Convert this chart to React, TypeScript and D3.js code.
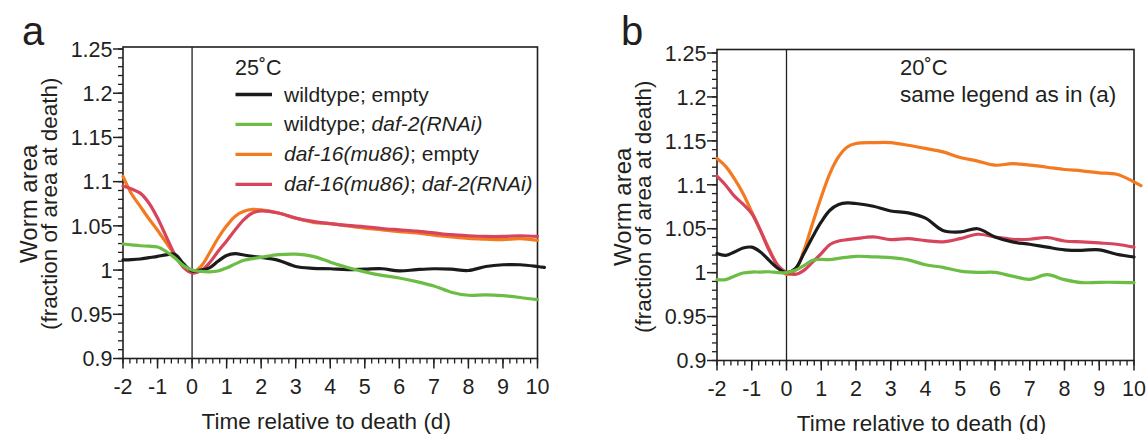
import React from "react";
import * as d3 from "d3";

// time (days relative to death)
const T = [-2, -1.75, -1.5, -1.25, -1, -0.75, -0.5, -0.25, 0, 0.25, 0.5, 0.75, 1, 1.25, 1.5, 1.75, 2, 2.5, 3, 3.5, 4, 4.5, 5, 5.5, 6, 6.5, 7, 7.5, 8, 8.5, 9, 9.5, 10, 10.2];

// Panel a (25°C)
const A_WT_EMPTY = [1.0115, 1.0118, 1.0125, 1.014, 1.0155, 1.0172, 1.018, 1.0072, 0.999, 1.0, 1.0025, 1.01, 1.0165, 1.0185, 1.017, 1.0155, 1.0144, 1.011, 1.004, 1.002, 1.0015, 1.0005, 1.001, 1.0015, 0.999, 1.0005, 1.0015, 1.001, 0.9995, 1.004, 1.006, 1.006, 1.004, 1.003];
const A_WT_DAF2 = [1.0295, 1.0285, 1.0275, 1.027, 1.026, 1.021, 1.0137, 1.005, 1.0, 0.9985, 0.998, 0.999, 1.0024, 1.007, 1.011, 1.013, 1.0144, 1.0174, 1.018, 1.0155, 1.009, 1.003, 0.998, 0.994, 0.991, 0.987, 0.982, 0.975, 0.9715, 0.972, 0.971, 0.969, 0.9665, null];
const A_D16_EMPTY = [1.106, 1.086, 1.072, 1.058, 1.045, 1.031, 1.017, 1.005, 0.998, 1.004, 1.019, 1.036, 1.05, 1.061, 1.0665, 1.0686, 1.068, 1.0645, 1.0588, 1.054, 1.0525, 1.05, 1.0475, 1.0455, 1.0435, 1.042, 1.0395, 1.0375, 1.0358, 1.035, 1.0345, 1.0355, 1.0335, null];
const A_D16_DAF2 = [1.095, 1.0917, 1.087, 1.0758, 1.0588, 1.038, 1.0174, 1.003, 0.9967, 0.999, 1.008, 1.021, 1.033, 1.0456, 1.057, 1.0645, 1.067, 1.0645, 1.0588, 1.055, 1.0525, 1.0505, 1.049, 1.047, 1.0455, 1.044, 1.042, 1.04, 1.0388, 1.038, 1.038, 1.0388, 1.038, null];

// Panel b (20°C)
const B_WT_EMPTY = [1.0217, 1.0197, 1.0235, 1.028, 1.029, 1.0235, 1.014, 1.005, 1.0, 1.0045, 1.0217, 1.0406, 1.0577, 1.071, 1.0775, 1.0794, 1.0787, 1.0756, 1.0702, 1.068, 1.062, 1.048, 1.0463, 1.05, 1.0406, 1.035, 1.0323, 1.029, 1.026, 1.0254, 1.026, 1.021, 1.0178, null];
const B_WT_DAF2 = [0.992, 0.992, 0.996, 0.9996, 1.0007, 1.0007, 1.001, 1.0, 1.0, 1.0026, 1.008, 1.014, 1.015, 1.0148, 1.0163, 1.0175, 1.0186, 1.018, 1.017, 1.0145, 1.009, 1.006, 1.0018, 1.0003, 1.0003, 0.996, 0.9924, 0.9977, 0.992, 0.9886, 0.989, 0.989, 0.9886, null];
const B_D16_EMPTY = [1.13, 1.121, 1.107, 1.09, 1.069, 1.048, 1.027, 1.008, 0.998, 1.0026, 1.025, 1.056, 1.086, 1.113, 1.132, 1.143, 1.147, 1.148, 1.148, 1.145, 1.1414, 1.1375, 1.131, 1.127, 1.1223, 1.124, 1.1223, 1.12, 1.1174, 1.1159, 1.1136, 1.112, 1.1033, 1.099];
const B_D16_DAF2 = [1.1098, 1.0995, 1.087, 1.078, 1.0673, 1.048, 1.0254, 1.0083, 1.0, 0.998, 1.0026, 1.012, 1.0217, 1.032, 1.036, 1.0375, 1.0387, 1.0406, 1.0376, 1.0387, 1.0365, 1.035, 1.0387, 1.0437, 1.0406, 1.038, 1.038, 1.04, 1.036, 1.035, 1.0338, 1.0323, 1.029, null];

const SERIES_NAMES = ["wildtype; empty", "wildtype; daf-2(RNAi)", "daf-16(mu86); empty", "daf-16(mu86); daf-2(RNAi)"];
const SERIES_COLORS = ["#1b1b1b", "#6cbd45", "#f47a20", "#d6455c"];
const DRAW_ORDER = [2, 3, 0, 1];

const X_TICKS = [-2, -1, 0, 1, 2, 3, 4, 5, 6, 7, 8, 9, 10];
const Y_TICKS = [0.9, 0.95, 1, 1.05, 1.1, 1.15, 1.2, 1.25];
const Y_TICK_LABELS = ["0.9", "0.95", "1", "1.05", "1.1", "1.15", "1.2", "1.25"];

const FONT = "'Liberation Sans', Arial, Helvetica, sans-serif";
const INK = "#231f20";

type PanelProps = {
  x0: number; x1: number; yTop: number; yBottom: number; boxTop: number;
  series: (number | null)[][];
  letter: string; letterX: number;
  children?: React.ReactNode;
};

function Panel({ x0, x1, yTop, yBottom, boxTop, series, letter, letterX, children }: PanelProps) {
  const x = d3.scaleLinear().domain([-2, 10]).range([x0, x1]);
  const y = d3.scaleLinear().domain([0.9, 1.25]).range([yBottom, yTop]);
  const line = d3.line<[number, number | null]>()
    .defined(d => d[1] !== null)
    .x(d => x(d[0]))
    .y(d => y(d[1] as number))
    .curve(d3.curveCatmullRom.alpha(0.5));
  const minorX = d3.range(-2, 10.001, 0.2).map(v => Math.round(v * 10) / 10);
  const minorY = d3.range(0.9, 1.2501, 0.01).map(v => Math.round(v * 100) / 100);
  const yMid = (yTop + yBottom) / 2;
  return (
    <g>
      <text x={letterX} y={45} fontSize={40} fill={INK} fontFamily={FONT}>{letter}</text>
      {/* box */}
      <rect x={x0} y={boxTop} width={x1 - x0} height={yBottom - boxTop} fill="none" stroke={INK} strokeWidth={1.6} />
      {/* zero line */}
      <line x1={x(0)} x2={x(0)} y1={boxTop} y2={yBottom} stroke={INK} strokeWidth={1.3} />
      {/* y ticks */}
      {minorY.map((v, i) => (
        <line key={"my" + i} x1={x0 - 5} x2={x0} y1={y(v)} y2={y(v)} stroke={INK} strokeWidth={1.3} />
      ))}
      {Y_TICKS.map((v, i) => (
        <g key={"y" + i}>
          <line x1={x0 - 10} x2={x0} y1={y(v)} y2={y(v)} stroke={INK} strokeWidth={1.5} />
          <text x={x0 - 10.5} y={y(v)} dy="0.36em" textAnchor="end" fontSize={21.5} fill={INK} fontFamily={FONT}>{Y_TICK_LABELS[i]}</text>
        </g>
      ))}
      {/* x ticks */}
      {minorX.map((v, i) => (
        <line key={"mx" + i} x1={x(v)} x2={x(v)} y1={yBottom} y2={yBottom + 5} stroke={INK} strokeWidth={1.3} />
      ))}
      {X_TICKS.map((v, i) => (
        <g key={"x" + i}>
          <line x1={x(v)} x2={x(v)} y1={yBottom} y2={yBottom + 10} stroke={INK} strokeWidth={1.5} />
          <text x={x(v)} y={yBottom + 35.5} textAnchor="middle" fontSize={21.5} fill={INK} fontFamily={FONT}>{String(v)}</text>
        </g>
      ))}
      <text x={(x0 + x1) / 2 - 4} y={yBottom + 70} textAnchor="middle" fontSize={22.5} fill={INK} fontFamily={FONT}>Time relative to death (d)</text>
      <text transform={`translate(${x0 - 86.5},${yMid}) rotate(-90)`} textAnchor="middle" fill={INK} fontFamily={FONT}>
        <tspan x={0} y={0} fontSize={24}>Worm area</tspan>
        <tspan x={0} y={20.5} fontSize={22.5}>(fraction of area at death)</tspan>
      </text>
      {/* data */}
      {DRAW_ORDER.map(si => (
        <path key={"s" + si}
          d={line(T.map((t, i) => [t, series[si][i]] as [number, number | null])) || ""}
          fill="none" stroke={SERIES_COLORS[si]} strokeWidth={3.2} strokeLinejoin="round" strokeLinecap="round" />
      ))}
      {children}
    </g>
  );
}

function LegendLabel({ name }: { name: string }) {
  // italicise gene names
  const parts = name.split("; ");
  const render = (p: string, k: number) => {
    const italic = p.startsWith("daf-");
    return <tspan key={k} fontStyle={italic ? "italic" : "normal"}>{p}</tspan>;
  };
  return (
    <>
      {render(parts[0], 0)}
      <tspan>; </tspan>
      {render(parts[1], 1)}
    </>
  );
}

export default function App() {
  const aSeries = [A_WT_EMPTY, A_WT_DAF2, A_D16_EMPTY, A_D16_DAF2];
  const bSeries = [B_WT_EMPTY, B_WT_DAF2, B_D16_EMPTY, B_D16_DAF2];
  const legendRowsY = [94.5, 124.3, 154.3, 184.3];
  return (
    <svg width={1148} height={434} style={{ position: "fixed", left: 0, top: 0, background: "#fff" }}>
      <rect width={1148} height={434} fill="#fff" />
      <Panel x0={123} x1={537.5} yTop={49} yBottom={358.5} boxTop={47} series={aSeries} letter="a" letterX={22}>
        <text x={235} y={75} fontSize={21.5} fill={INK} fontFamily={FONT}>25˚C</text>
        {SERIES_NAMES.map((n, i) => (
          <g key={"lg" + i}>
            <line x1={235.5} x2={272} y1={legendRowsY[i]} y2={legendRowsY[i]} stroke={SERIES_COLORS[i]} strokeWidth={3.3} />
            <text x={284} y={legendRowsY[i] + 7} fontSize={21} fill={INK} fontFamily={FONT}>
              <LegendLabel name={n} />
            </text>
          </g>
        ))}
      </Panel>
      <Panel x0={717} x1={1134} yTop={53} yBottom={360.5} boxTop={49.5} series={bSeries} letter="b" letterX={621}>
        <text x={900} y={75} fontSize={22} fill={INK} fontFamily={FONT}>20˚C</text>
        <text x={900} y={101.5} fontSize={22.5} fill={INK} fontFamily={FONT}>same legend as in (a)</text>
      </Panel>
    </svg>
  );
}
